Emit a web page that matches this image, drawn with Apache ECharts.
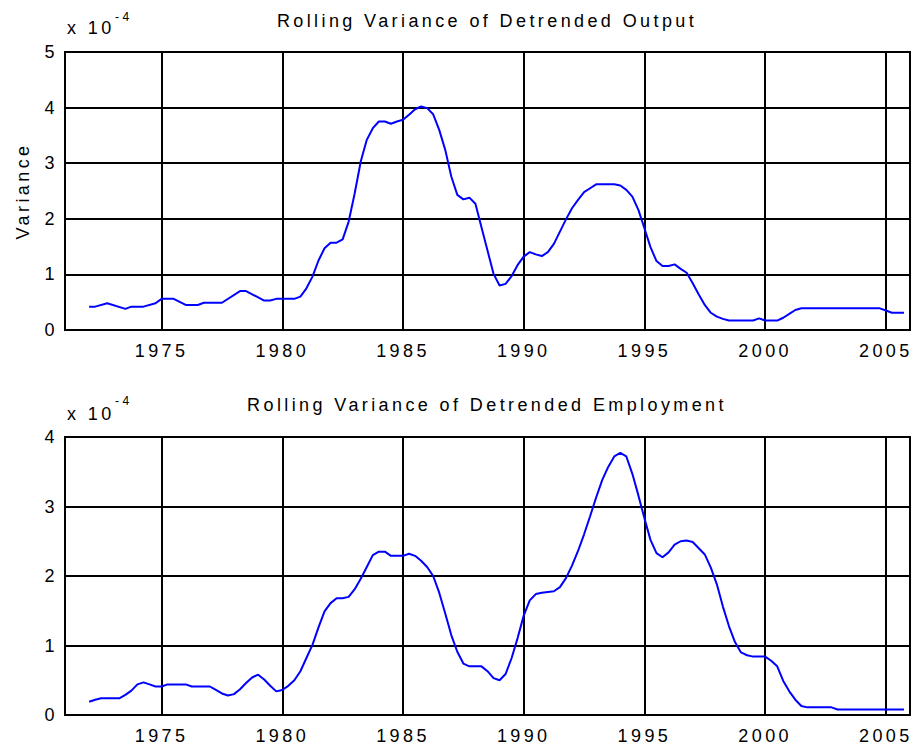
<!DOCTYPE html>
<html>
<head>
<meta charset="utf-8">
<script src="https://cdn.jsdelivr.net/npm/echarts@6/dist/echarts.min.js"></script>
<style>
  html, body { margin: 0; padding: 0; background: #fff; }
  #chart { width: 914px; height: 749px; }
  /* matlab export spreads letters out */
  #chart text { letter-spacing: 3.4px; }
</style>
</head>
<body>
<div id="chart"></div>
<script>
const yearTicks = [1975, 1980, 1985, 1990, 1995, 2000, 2005];

// rolling variance of detrended output, units of 1e-4
const outputYears = [1972, 1972.25, 1972.75, 1973.5, 1973.75, 1974.25, 1974.75, 1975, 1975.5, 1976, 1976.5, 1976.75,
  1977.5, 1978.25, 1978.5, 1979.25, 1979.5, 1979.75, 1980.5, 1980.75, 1981, 1981.25, 1981.5, 1981.75, 1982, 1982.25,
  1982.5, 1982.75, 1983, 1983.25, 1983.5, 1983.75, 1984, 1984.25, 1984.5, 1984.75, 1985, 1985.25, 1985.5, 1985.75,
  1986, 1986.25, 1986.5, 1986.75, 1987, 1987.25, 1987.5, 1987.75, 1988, 1988.25, 1988.5, 1988.75, 1989, 1989.25,
  1989.5, 1989.75, 1990, 1990.25, 1990.5, 1990.75, 1991, 1991.25, 1991.5, 1991.75, 1992, 1992.25, 1992.5, 1992.75,
  1993, 1993.75, 1994, 1994.25, 1994.5, 1994.75, 1995, 1995.25, 1995.5, 1995.75, 1996, 1996.25, 1996.5, 1996.75,
  1997, 1997.25, 1997.5, 1997.75, 1998, 1998.25, 1998.5, 1999.5, 1999.75, 2000, 2000.5, 2000.75, 2001, 2001.25,
  2001.5, 2004.75, 2005, 2005.25, 2005.75];
const outputVar = [0.42, 0.42, 0.48, 0.38, 0.42, 0.42, 0.48, 0.56, 0.56, 0.45, 0.45, 0.49,
  0.49, 0.70, 0.70, 0.53, 0.53, 0.56, 0.56, 0.60, 0.75, 0.96, 1.25, 1.47, 1.57, 1.57,
  1.63, 1.95, 2.46, 3.03, 3.42, 3.63, 3.75, 3.75, 3.71, 3.75, 3.78, 3.87, 3.97, 4.02,
  3.99, 3.88, 3.60, 3.24, 2.76, 2.43, 2.35, 2.38, 2.27, 1.85, 1.43, 1.01, 0.80, 0.83,
  0.97, 1.17, 1.32, 1.40, 1.36, 1.33, 1.40, 1.55, 1.77, 1.99, 2.19, 2.34, 2.48, 2.55,
  2.62, 2.62, 2.60, 2.52, 2.40, 2.16, 1.83, 1.49, 1.24, 1.15, 1.15, 1.18, 1.10, 1.03,
  0.84, 0.64, 0.45, 0.31, 0.24, 0.20, 0.17, 0.17, 0.21, 0.17, 0.17, 0.22, 0.29, 0.36,
  0.39, 0.39, 0.35, 0.31, 0.31];

// rolling variance of detrended employment, units of 1e-4
const employYears = [1972, 1972.25, 1972.5, 1973.25, 1973.5, 1973.75, 1974, 1974.25, 1974.5, 1974.75, 1975, 1975.25,
  1976, 1976.25, 1977, 1977.25, 1977.5, 1977.75, 1978, 1978.25, 1978.5, 1978.75, 1979, 1979.25, 1979.5, 1979.75,
  1980, 1980.25, 1980.5, 1980.75, 1981, 1981.25, 1981.5, 1981.75, 1982, 1982.25, 1982.5, 1982.75, 1983, 1983.25,
  1983.5, 1983.75, 1984, 1984.25, 1984.5, 1985, 1985.25, 1985.5, 1985.75, 1986, 1986.25, 1986.5, 1986.75, 1987,
  1987.25, 1987.5, 1987.75, 1988.25, 1988.5, 1988.75, 1989, 1989.25, 1989.5, 1989.75, 1990, 1990.25, 1990.5, 1990.75,
  1991.25, 1991.5, 1991.75, 1992, 1992.25, 1992.5, 1992.75, 1993, 1993.25, 1993.5, 1993.75, 1994, 1994.25, 1994.5,
  1994.75, 1995, 1995.25, 1995.5, 1995.75, 1996, 1996.25, 1996.5, 1996.75, 1997, 1997.25, 1997.5, 1997.75, 1998,
  1998.25, 1998.5, 1998.75, 1999, 1999.25, 1999.5, 2000, 2000.25, 2000.5, 2000.75, 2001, 2001.25, 2001.5, 2001.75,
  2002.75, 2003, 2005.75];
const employVar = [0.19, 0.22, 0.24, 0.24, 0.29, 0.35, 0.44, 0.47, 0.44, 0.41, 0.41, 0.44,
  0.44, 0.41, 0.41, 0.36, 0.31, 0.28, 0.30, 0.37, 0.46, 0.54, 0.58, 0.51, 0.42, 0.34,
  0.36, 0.42, 0.50, 0.63, 0.82, 1.01, 1.26, 1.49, 1.61, 1.68, 1.68, 1.70, 1.81, 1.96,
  2.13, 2.30, 2.35, 2.35, 2.29, 2.29, 2.32, 2.29, 2.22, 2.13, 2.00, 1.76, 1.46, 1.15,
  0.91, 0.74, 0.70, 0.70, 0.63, 0.53, 0.50, 0.59, 0.82, 1.11, 1.43, 1.65, 1.74, 1.76,
  1.78, 1.84, 1.97, 2.15, 2.36, 2.60, 2.86, 3.13, 3.38, 3.57, 3.72, 3.77, 3.72, 3.47,
  3.16, 2.83, 2.52, 2.33, 2.27, 2.34, 2.45, 2.50, 2.51, 2.49, 2.40, 2.31, 2.12, 1.88,
  1.56, 1.28, 1.05, 0.90, 0.86, 0.84, 0.84, 0.78, 0.70, 0.49, 0.34, 0.22, 0.13, 0.11,
  0.11, 0.08, 0.08];

const font = '"Liberation Sans", Arial, Helvetica, sans-serif';

const myChart = echarts.init(document.getElementById('chart'), null, { renderer: 'svg' });

const xAxisFor = (gridIndex) => ({
  type: 'value',
  gridIndex: gridIndex,
  min: 1971,
  max: 2006,
  axisLine: { show: true, lineStyle: { color: '#000', width: 2 } },
  axisTick: { show: true, inside: true, length: 6, customValues: yearTicks, lineStyle: { color: '#000', width: 2 } },
  axisLabel: {
    customValues: yearTicks,
    color: '#000',
    fontSize: 18,
    fontFamily: font,
    margin: 12,
    // plain years, no thousands comma
    formatter: (v) => String(v)
  },
  splitLine: { show: true, lineStyle: { color: '#000', width: 2 } }
});

const yAxisFor = (gridIndex, max, name) => ({
  type: 'value',
  gridIndex: gridIndex,
  min: 0,
  max: max,
  interval: 1,
  name: name,
  nameLocation: 'middle',
  nameGap: 33,
  nameTextStyle: { color: '#000', fontSize: 18, fontFamily: font },
  axisLine: { show: true, lineStyle: { color: '#000', width: 2 } },
  axisTick: { show: true, inside: true, length: 6, lineStyle: { color: '#000', width: 2 } },
  axisLabel: { color: '#000', fontSize: 18, fontFamily: font, margin: 7 },
  splitLine: { show: true, lineStyle: { color: '#000', width: 2 } }
});

// right hand axis only for the little inward ticks
const yAxisRight = (gridIndex, max) => ({
  type: 'value',
  gridIndex: gridIndex,
  position: 'right',
  min: 0,
  max: max,
  interval: 1,
  axisLine: { show: true, lineStyle: { color: '#000', width: 2 } },
  axisTick: { show: true, inside: true, length: 8, lineStyle: { color: '#000', width: 2 } },
  axisLabel: { show: false },
  splitLine: { show: false }
});

const zip = (xs, ys) => xs.map((x, i) => [x, ys[i]]);

const txt = (text, x, y, size, align) => ({
  type: 'text',
  x: x,
  y: y,
  style: { text: text, fill: '#000', font: size + 'px ' + font, textAlign: align || 'left', textVerticalAlign: 'middle' }
});

const options = {
  animation: false,
  backgroundColor: '#fff',
  grid: [
    { left: 65, right: 4, top: 52, height: 278, show: true, borderColor: '#000', borderWidth: 2, outerBoundsMode: 'none' },
    { left: 65, right: 4, top: 437, height: 278, show: true, borderColor: '#000', borderWidth: 2, outerBoundsMode: 'none' }
  ],
  xAxis: [xAxisFor(0), xAxisFor(1)],
  yAxis: [yAxisFor(0, 5, 'Variance'), yAxisFor(1, 4, ''), yAxisRight(0, 5), yAxisRight(1, 4)],
  series: [
    {
      name: 'Output',
      type: 'line',
      xAxisIndex: 0,
      yAxisIndex: 0,
      showSymbol: false,
      lineStyle: { color: '#0000ff', width: 2 },
      data: zip(outputYears, outputVar)
    },
    {
      name: 'Employment',
      type: 'line',
      xAxisIndex: 1,
      yAxisIndex: 1,
      showSymbol: false,
      lineStyle: { color: '#0000ff', width: 2 },
      data: zip(employYears, employVar)
    }
  ],
  graphic: [
    txt('Rolling Variance of Detrended Output', 487, 21, 18, 'center'),
    txt('x 10', 67, 28, 18),
    txt('-4', 115, 17, 12),
    txt('Rolling Variance of Detrended Employment', 487, 405, 18, 'center'),
    txt('x 10', 67, 414, 18),
    txt('-4', 115, 401, 12)
  ]
};

myChart.setOption(options);
</script>
</body>
</html>
